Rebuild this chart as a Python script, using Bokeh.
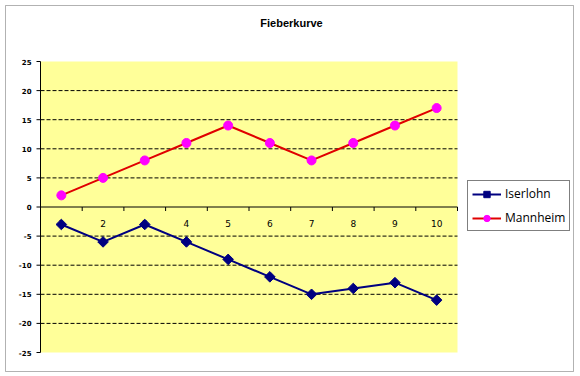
import numpy as np
from bokeh.plotting import figure
from bokeh.models import Range1d, Legend, LegendItem, Label, BoxAnnotation
from bokeh.core.properties import value
from bokeh.embed import file_html
from bokeh.resources import INLINE

# ---- data ----
title_text = "Fieberkurve"
categories = ["1", "2", "3", "4", "5", "6", "7", "8", "9", "10"]
iserlohn = [-3, -6, -3, -6, -9, -12, -15, -14, -13, -16]
mannheim = [2, 5, 8, 11, 14, 11, 8, 11, 14, 17]
y_ticks = [-25, -20, -15, -10, -5, 0, 5, 10, 15, 20, 25]
y_tick_labels = [str(t) for t in y_ticks]
series_names = ["Iserlohn", "Mannheim"]

xs = list(range(1, len(categories) + 1))
x_lo, x_hi = 0.5, len(categories) + 0.5
y_lo, y_hi = min(y_ticks), max(y_ticks)

# ---- layout (pixels) ----
W, H = 580, 376
L, R, T, B = 40, 123, 61, 24
ppx = (W - L - R) / (x_hi - x_lo)
ppy = (H - T - B) / (y_hi - y_lo)

p = figure(width=W, height=H, output_backend="svg", toolbar_location=None,
           x_range=Range1d(x_lo - L / ppx, x_hi + R / ppx),
           y_range=Range1d(y_lo - B / ppy, y_hi + T / ppy),
           x_axis_location=None, y_axis_location=None, min_border=0)
p.background_fill_color = "white"
p.border_fill_color = "white"
p.outline_line_color = None
p.grid.visible = False

# plot area
p.quad(left=[x_lo], right=[x_hi], bottom=[y_lo], top=[y_hi],
       fill_color="#FFFF99", line_color=None)

# horizontal dashed grid
grid_ticks = [t for t in y_ticks if t not in (0, y_lo, y_hi)]
p.segment(x0=[x_lo] * len(grid_ticks), x1=[x_hi] * len(grid_ticks),
          y0=grid_ticks, y1=grid_ticks, line_color="black", line_width=1,
          line_dash="4 2")

# y axis
p.segment(x0=[x_lo], x1=[x_lo], y0=[y_lo], y1=[y_hi], line_color="black", line_width=1)
p.segment(x0=[x_lo - 4 / ppx] * len(y_ticks), x1=[x_lo] * len(y_ticks),
          y0=y_ticks, y1=y_ticks, line_color="black", line_width=1)
p.text(x=[x_lo] * len(y_ticks), y=y_ticks, text=y_tick_labels, x_offset=-9,
       text_align="right", text_baseline="middle",
       text_font=value("DejaVu Sans"), text_font_style="bold",
       text_font_size="7px", text_color="black")

# category axis at y = 0
p.segment(x0=[x_lo], x1=[x_hi], y0=[0], y1=[0], line_color="black", line_width=1)
bounds = [x + 0.5 for x in xs]
p.segment(x0=bounds, y0=[0] * len(bounds), x1=bounds, y1=[-4 / ppy] * len(bounds),
          line_color="black", line_width=1)
p.text(x=xs, y=[0] * len(xs), text=categories, y_offset=16,
       text_align="center", text_baseline="middle",
       text_font=value("DejaVu Sans"), text_font_size="9px", text_color="black")

# series
l1 = p.line(xs, iserlohn, line_color="#000080", line_width=2)
m1 = p.scatter(xs, iserlohn, marker="square", angle=np.pi / 4, size=7.5,
               fill_color="#000080", line_color="#000080")
l2 = p.line(xs, mannheim, line_color="#E00000", line_width=2)
m2 = p.scatter(xs, mannheim, marker="circle", size=9,
               fill_color="#FF00FF", line_color="#FF00FF")

legend = Legend(items=[LegendItem(label=series_names[0], renderers=[l1, m1]),
                       LegendItem(label=series_names[1], renderers=[l2, m2])],
                location=(467, H - 231))
legend.background_fill_color = "white"
legend.background_fill_alpha = 1
legend.border_line_color = "black"
legend.border_line_width = 1
legend.padding = 4
legend.spacing = 7
legend.margin = 0
legend.label_height = 16
legend.glyph_height = 16
legend.glyph_width = 29
legend.label_standoff = 4
legend.label_text_font = "Open Sans"
legend.label_text_font_size = "12px"
legend.label_text_color = "black"
p.add_layout(legend)

# title
p.add_layout(Label(x=291, y=H - 22, x_units="screen", y_units="screen",
                   text=title_text, text_align="center", text_baseline="middle",
                   text_font="Liberation Sans", text_font_style="bold",
                   text_font_size="11px", text_color="black"))

# outer frame
p.add_layout(BoxAnnotation(left=5, right=573, top=H - 5, bottom=5,
                           left_units="screen", right_units="screen",
                           top_units="screen", bottom_units="screen",
                           fill_alpha=0, line_color="black", line_width=1))

open("out.html", "w").write(file_html(p, INLINE))
